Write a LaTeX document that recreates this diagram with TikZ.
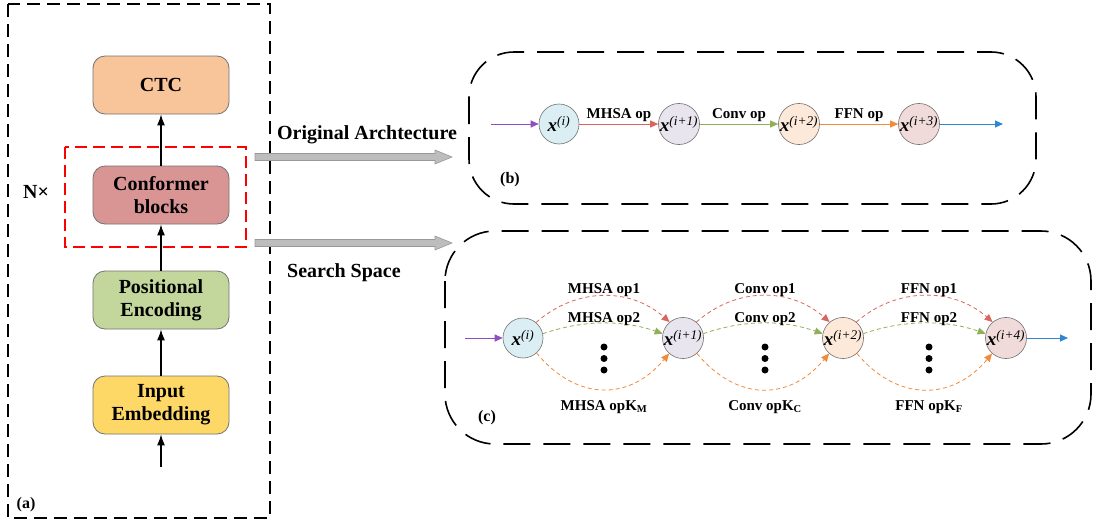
\documentclass[tikz,border=0pt]{standalone}
\usepackage{fontspec}
\setmainfont{Liberation Serif}
\usetikzlibrary{arrows.meta}
\definecolor{cCTC}{HTML}{F8C49A}
\definecolor{cConf}{HTML}{D99594}
\definecolor{cPos}{HTML}{C3D69B}
\definecolor{cInp}{HTML}{FDD866}
\definecolor{cA}{HTML}{DAEEF3}
\definecolor{cB}{HTML}{E9E5EF}
\definecolor{cC}{HTML}{FDE9D9}
\definecolor{cD}{HTML}{F0DBDA}
\definecolor{lPur}{HTML}{8E4FC0}
\definecolor{lRed}{HTML}{D9665E}
\definecolor{lGrn}{HTML}{8FB055}
\definecolor{lOrg}{HTML}{F28A3A}
\definecolor{lBlu}{HTML}{2F86D2}
\definecolor{gArr}{HTML}{BDBDBD}
\newcommand{\xv}[1]{\textbf{\textit{x}}\textsuperscript{\textit{#1}}}
\tikzset{
  blk/.style={draw=black!55, line width=0.8pt, rounded corners=12pt, minimum width=136pt, minimum height=58pt, align=center, inner sep=0pt, font=\fontsize{20}{23}\selectfont\bfseries},
  xnode/.style={circle, draw=black!55, line width=0.6pt, minimum size=40pt, inner sep=0pt, font=\fontsize{19}{20}\selectfont},
  blarr/.style={line width=1.3pt, -{Latex[length=11pt,width=8pt]}},
  carr/.style={line width=1pt, -{Triangle[length=8pt,width=7pt]}},
  darr/.style={line width=0.8pt, dash pattern=on 4pt off 3pt, -{Triangle[length=8pt,width=7pt]}},
  lbl/.style={font=\fontsize{15}{17}\selectfont\bfseries, anchor=base},
  big/.style={font=\fontsize{20}{23}\selectfont\bfseries},
  tag/.style={font=\fontsize{16}{18}\selectfont\bfseries},
  gray arrow/.style={fill=gArr, draw=black!40, line width=0.6pt}
}
\begin{document}
\begin{tikzpicture}[x=1pt,y=-1pt]
\useasboundingbox (0,0) rectangle (1094,522);
\fill[white] (0,0) rectangle (1094,522);

% (a) panel
\draw[line width=1.4pt, dash pattern=on 13pt off 7pt] (8,4) rectangle (270,518);
\node[blk, fill=cCTC] (ctc) at (161,85) {CTC};
\node[blk, fill=cConf] (conf) at (161,195) {Conformer\\blocks};
\node[blk, fill=cPos] (pos) at (161,300) {Positional\\Encoding};
\node[blk, fill=cInp] (inp) at (161,405) {Input\\Embedding};
\coordinate (abot) at (161,467);
\draw[blarr] (abot) -- (inp);
\draw[blarr] (inp) -- (pos);
\draw[blarr] (pos) -- (conf);
\draw[blarr] (conf) -- (ctc);
\draw[red, line width=1.5pt, dash pattern=on 12pt off 6pt] (65,147) rectangle (246,247);
\node[big] (nx) at (36,192) {N×};
\node[tag] (ta) at (26,505) {(a)};

% gray arrows
\draw[gray arrow] (255,153.5) -- (435,153.5) -- (435,150) -- (452,157) -- (435,164) -- (435,160.5) -- (255,160.5) -- cycle;
\draw[gray arrow] (255,239.5) -- (435,239.5) -- (435,236) -- (452,243) -- (435,250) -- (435,246.5) -- (255,246.5) -- cycle;
\node[big, anchor=base] (orig) at (367,139) {Original Archtecture};
\node[big, anchor=base] (ss) at (344,277) {Search Space};

% (b) panel
\draw[line width=1.6pt, dash pattern=on 27pt off 13pt, rounded corners=45pt] (469,52) rectangle (1036,204);
\node[xnode, fill=cA] (b1) at (559,124) {\xv{(i)}};
\node[xnode, fill=cB] (b2) at (679,124) {\xv{(i+1)}};
\node[xnode, fill=cC] (b3) at (799,124) {\xv{(i+2)}};
\node[xnode, fill=cD] (b4) at (919,124) {\xv{(i+3)}};
\coordinate (bin) at (491,124);
\coordinate (bout) at (1003,124);
\draw[carr, lPur] (bin) -- (b1);
\draw[carr, lRed] (b1) -- (b2);
\draw[carr, lGrn] (b2) -- (b3);
\draw[carr, lOrg] (b3) -- (b4);
\draw[carr, lBlu] (b4) -- (bout);
\node[lbl] (lb1) at (619,118) {MHSA op};
\node[lbl] (lb2) at (739,118) {Conv op};
\node[lbl] (lb3) at (859,118) {FFN op};
\node[tag] (tb) at (510,180) {(b)};

% (c) panel
\draw[line width=1.6pt, dash pattern=on 27pt off 13pt, rounded corners=50pt] (445,231) rectangle (1091,444);
\node[xnode, fill=cA] (c1) at (523,338) {\xv{(i)}};
\node[xnode, fill=cB] (c2) at (683,338) {\xv{(i+1)}};
\node[xnode, fill=cC] (c3) at (843,338) {\xv{(i+2)}};
\node[xnode, fill=cD] (c4) at (1006,338) {\xv{(i+4)}};
\coordinate (cin) at (465,338);
\coordinate (cout) at (1068,338);
\draw[carr, lPur] (cin) -- (c1);
\draw[carr, lBlu] (c4) -- (cout);
\foreach \s/\t in {c1/c2, c2/c3, c3/c4} {
  \draw[darr, lRed] (\s.50) .. controls +(40,-35) and +(-40,-35) .. (\t.130);
  \draw[darr, lGrn] (\s.12) .. controls +(40,-14) and +(-40,-14) .. (\t.168);
  \draw[darr, lOrg] (\s.-48) .. controls +(40,48) and +(-40,48) .. (\t.-132);
}
\node[lbl] (m1) at (604,293) {MHSA op1};
\node[lbl] (m2) at (604,322) {MHSA op2};
\node[lbl] (m3) at (604,410) {MHSA opK\textsubscript{M}};
\node[lbl] (v1) at (765,293) {Conv op1};
\node[lbl] (v2) at (765,322) {Conv op2};
\node[lbl] (v3) at (765,410) {Conv opK\textsubscript{C}};
\node[lbl] (f1) at (929,293) {FFN op1};
\node[lbl] (f2) at (929,322) {FFN op2};
\node[lbl] (f3) at (929,410) {FFN opK\textsubscript{F}};
\foreach \x in {604,765,929} {
  \fill (\x,347) circle (3.5);
  \fill (\x,358.5) circle (3.5);
  \fill (\x,370) circle (3.5);
}
\node[tag] (tc) at (487,418) {(c)};
\end{tikzpicture}
\end{document}
